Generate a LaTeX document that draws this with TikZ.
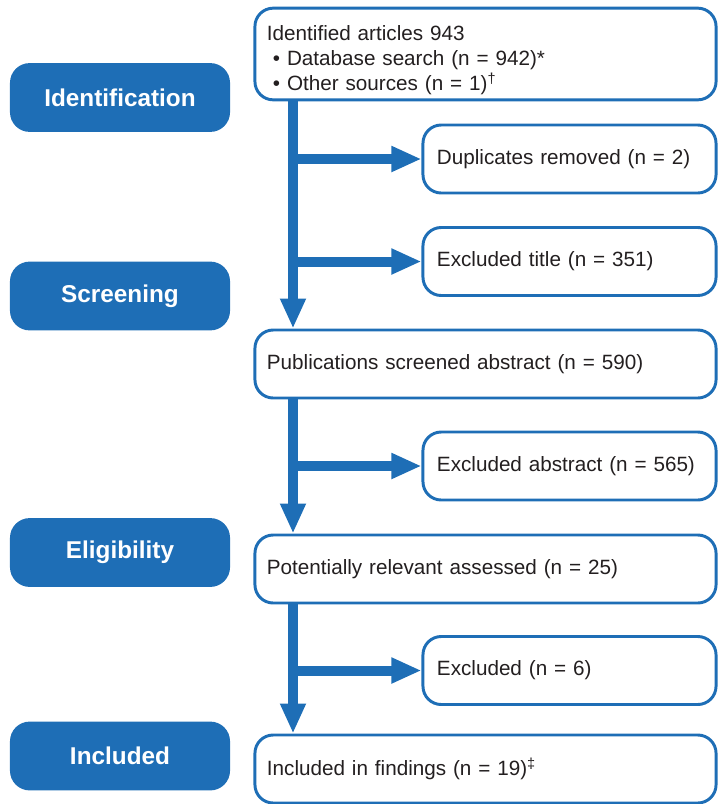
\documentclass[tikz,border=0pt]{standalone}
\usepackage{fontspec}
\setmainfont{Liberation Sans}
\usetikzlibrary{arrows.meta}

\definecolor{flowblue}{RGB}{30,110,182}
\definecolor{flowtext}{RGB}{35,31,32}

\tikzset{
    stage/.style={rectangle, rounded corners=14pt, fill=flowblue, text=white,
        font=\fontsize{17.3}{20}\selectfont\bfseries,
        minimum width=5.5cm, minimum height=1.72cm},
    mainbox/.style={rectangle, rounded corners=13pt, draw=flowblue, line width=2.1pt,
        fill=white, text=flowtext, font=\fontsize{14.7}{18}\selectfont,
        align=left, inner xsep=0.3cm, text width=10.925cm, minimum height=1.7cm},
    sidebox/.style={mainbox, inner xsep=0.35cm, text width=6.625cm},
    flow/.style={draw=flowblue, line width=0.25cm,
        -{Triangle[width=0.6cm, length=0.75cm]}}
}

\begin{document}
\begin{tikzpicture}[x=0.025cm, y=-0.025cm]
    \useasboundingbox (0,0) rectangle (718,804);

    % Draw the stage labels
    \foreach \name/\y/\txt in {ident/97.5/Identification, screen/296/Screening,
                               elig/552.5/Eligibility, incl/756/Included}{
        \node[stage] (\name) at (120,\y) {\txt};
    }

    % Draw the main boxes
    \node[mainbox, minimum height=2.2cm] (found) at (485.5,54)
        {\rule{0pt}{19.5pt}Identified articles 943\\
         \hspace*{0.15cm}\textbullet\ Database search (n = 942)*\\
         \hspace*{0.15cm}\textbullet\ Other sources (n = 1)\textsuperscript{†}};
    \node[mainbox] (screened) at (485.5,364) {Publications screened abstract (n = 590)};
    \node[mainbox] (assessed) at (485.5,569) {Potentially relevant assessed (n = 25)};
    \node[mainbox] (findings) at (485.5,769) {Included in findings (n = 19)\textsuperscript{‡}};

    % Draw the exclusion boxes
    \node[sidebox] (dupl) at (569.5,159) {Duplicates removed (n = 2)};
    \node[sidebox] (extitle) at (569.5,261.5) {Excluded title (n = 351)};
    \node[sidebox] (exabstr) at (569.5,466) {Excluded abstract (n = 565)};
    \node[sidebox] (exfull) at (569.5,670.5) {Excluded (n = 6)};

    % Draw the trunk
    \coordinate (trunk) at (293,0);
    \draw[flow] (found.south -| trunk) -- (screened.north -| trunk);
    \draw[flow] (screened.south -| trunk) -- (assessed.north -| trunk);
    \draw[flow] (assessed.south -| trunk) -- (findings.north -| trunk);

    % Draw the branches
    \foreach \side in {dupl, extitle, exabstr, exfull}
        \draw[flow] (\side.west -| trunk) -- (\side.west);

\end{tikzpicture}
\end{document}
